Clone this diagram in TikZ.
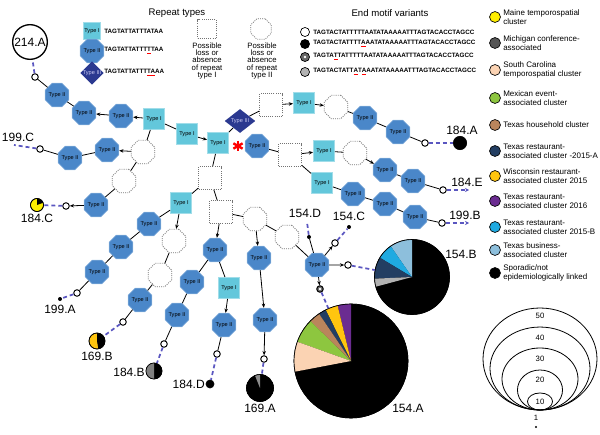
\documentclass[tikz,border=0pt]{standalone}
\usepackage{fontspec}
\setmainfont{Liberation Sans}
\usetikzlibrary{shapes.geometric,arrows.meta}

\definecolor{octblue}{HTML}{4A87C9}
\definecolor{sqcyan}{HTML}{63C7DB}
\definecolor{diablue}{HTML}{2B3990}
\definecolor{lavtext}{HTML}{C9C9F2}
\definecolor{linkblue}{HTML}{5A56C0}
\definecolor{cMaine}{HTML}{FFEE00}
\definecolor{cMich}{HTML}{555555}
\definecolor{cSC}{HTML}{FBD3B3}
\definecolor{cMex}{HTML}{8DC63F}
\definecolor{cHouse}{HTML}{BA855C}
\definecolor{cTxA}{HTML}{233E62}
\definecolor{cWisc}{HTML}{FFC50F}
\definecolor{cTxS}{HTML}{6B2C91}
\definecolor{cTxB}{HTML}{1FAAE1}
\definecolor{cBiz}{HTML}{8DBFDC}

\newcommand{\slice}[5]{\fill[#5] (#1.center) -- ++(#2:#4) arc[start angle=#2, end angle=#3, radius=#4] -- cycle;}
\newcommand{\redul}[1]{\textcolor{red}{\underline{\textcolor{black}{#1}}}}

\begin{document}
\begin{tikzpicture}[x=0.75pt, y=-0.75pt,
    typeI/.style={rectangle, fill=sqcyan, draw=sqcyan!60!white, minimum size=16pt, inner sep=0pt, font=\fontsize{4.2}{4.2}\selectfont},
    typeII/.style={regular polygon, regular polygon sides=8, fill=octblue, draw=octblue!55!white, minimum size=18pt, inner sep=0pt, font=\fontsize{4.2}{4.2}\selectfont},
    typeIII/.style={diamond, fill=diablue, text=lavtext, minimum width=23pt, minimum height=18pt, inner sep=0pt, font=\fontsize{4.2}{4.2}\selectfont},
    lossI/.style={rectangle, draw=black!55, line width=0.6pt, dash pattern=on 0.7pt off 0.9pt, fill=white, minimum size=17pt, inner sep=0pt},
    lossII/.style={regular polygon, regular polygon sides=8, draw=black!55, line width=0.6pt, dash pattern=on 0.7pt off 0.9pt, fill=white, minimum size=19pt, inner sep=0pt},
    motif/.style={circle, draw=black, fill=white, line width=0.7pt, minimum size=4.9pt, inner sep=0pt},
    ring/.style={fill=black!60, path picture={\fill[white] (path picture bounding box.center) circle[radius=1.1pt];}},
    enddot/.style={circle, fill=black, minimum size=3pt, inner sep=0pt},
    isopie/.style={circle, draw=black, fill=black, line width=0.5pt, inner sep=0pt},
    link/.style={line width=0.6pt},
    linkar/.style={link, -{Stealth[length=3.2pt, width=2.6pt]}},
    isol/.style={draw=linkblue, line width=1.3pt, dash pattern=on 3pt off 2.2pt},
    lab/.style={font=\fontsize{9}{9}\selectfont, inner sep=0pt},
    seq/.style={font=\fontsize{4.7}{4.7}\selectfont\bfseries, anchor=west, inner sep=0pt},
    keyhead/.style={font=\fontsize{7.2}{7.2}\selectfont, inner sep=0pt},
    note/.style={font=\fontsize{5.8}{5.5}\selectfont, align=center, inner sep=0pt},
    keycirc/.style={circle, draw=black, line width=0.5pt, minimum size=8.2pt, inner sep=0pt},
    keytxt/.style={font=\fontsize{6}{6.9}\selectfont, align=left, anchor=west, inner sep=0pt}]
\useasboundingbox (0,0) rectangle (600,435);

% repeat types
\node[keyhead] (hrep) at (177,13) {Repeat types};
\node[typeI, minimum size=13pt] (kI) at (92,31) {Type I};
\node[typeII, minimum size=15.5pt] (kII) at (92,51) {Type II};
\node[typeIII, minimum width=17pt, minimum height=17pt] (kIII) at (92,73) {Type III};
\node[seq] (sI) at (104,31) {TAGTATTATTTATAA};
\node[seq] (sII) at (104,51) {TAGTATTATTT\redul{T}TAA};
\node[seq] (sIII) at (104,73) {TAGTATTATTT\redul{TA}AA};
\node[lossI, minimum size=14pt] (kLI) at (207,29) {};
\node[note] (nLI) at (207,61) {Possible\\loss or\\absence\\of repeat\\type I};
\node[lossII, minimum size=16.5pt] (kLII) at (261,29) {};
\node[note] (nLII) at (262,61) {Possible\\loss or\\absence\\of repeat\\type II};

% end motif variants
\node[keyhead] (hmot) at (390,13) {End motif variants};
\node[keycirc, minimum size=6.8pt, fill=white] (k1) at (305,32) {};
\node[keycirc, minimum size=6.8pt, fill=black] (k2) at (305,44) {};
\node[keycirc, minimum size=6.8pt, ring] (k3) at (305,57) {};
\node[keycirc, minimum size=6.8pt, fill=black!30] (k4) at (305,72) {};
\node[seq] (mv1) at (313,32) {TAGTACTATTTTTAATATAAAAATTTAGTACACCTAGCC};
\node[seq] (mv2) at (313,44) {TAGTACTATTTT\redul{A}AATATAAAAATTTAGTACACCTAGCC};
\node[seq] (mv3) at (313,57) {TAGTA\redul{T}TATTTTTAATATAAAAATTTAGTACACCTAGCC};
\node[seq] (mv4) at (313,72) {TAGTACTATT\redul{A}T\redul{A}AATATAAAAATTTAGTACACCTAGCC};

% clusters
\foreach \y/\col/\lbl [count=\i] in {17/cMaine/{Maine temporospatial\\cluster},
    43/cMich/{Michigan conference-\\associated},
    70/cSC/{South Carolina\\temporospatial cluster},
    98/cMex/{Mexican event-\\associated cluster},
    125/cHouse/{Texas household cluster},
    151/cTxA/{Texas restaurant-\\associated cluster -2015-A},
    176/cWisc/{Wisconsin restaurant-\\associated cluster 2015},
    201/cTxS/{Texas restaurant-\\associated cluster 2016},
    227/cTxB/{Texas restaurant-\\associated cluster 2015-B},
    250/cBiz/{Texas business-\\associated cluster},
    273/black/{Sporadic/not\\epidemiologically linked}} {
  \node[keycirc, fill=\col] (cl\i) at (495,\y) {};
  \node[keytxt] (ct\i) at (503,\y) {\lbl};
}

% root
\node[typeI] (root) at (218,143) {Type I};
\coordinate (ast) at (238,146);
\foreach \a in {90,30,150}
  \draw[red, line width=1.8pt] ([shift={(\a:4pt)}]ast) -- ([shift={(\a+180:4pt)}]ast);

% upper left
\node[typeI] (l1) at (154,119) {Type I};
\node[typeI] (l1b) at (187,134) {Type I};
\node[typeII] (l2) at (121,116) {Type II};
\node[typeII] (l3) at (84,113) {Type II};
\node[typeII] (l4) at (57,95) {Type II};
\node[motif] (o214) at (35,77) {};
\node[circle, draw, line width=1pt, minimum size=26pt, inner sep=0pt, lab] (p214) at (30,42) {214.A};
\node[lossII] (d1) at (143,152) {};
\node[typeII] (l5) at (107,150) {Type II};
\node[typeII] (l6) at (70,158) {Type II};
\node[motif] (o199c) at (40,149) {};
\coordinate (c199c) at (14,145);
\node[lab] (t199c) at (18,137) {199.C};
\node[lossII] (d2) at (124,181) {};
\node[typeII] (l7) at (96,205) {Type II};
\node[motif] (o184c) at (66,206) {};
\node[isopie, fill=cMaine, minimum size=9.8pt] (p184c) at (37,205) {};
\node[lab] (t184c) at (37,218) {184.C};

% upper right
\node[typeIII] (t3) at (240,121) {Type III};
\node[lossI] (r1) at (271,105) {};
\node[typeI] (r2) at (304,103) {Type I};
\node[lossII] (r3) at (336,107) {};
\node[typeII] (r4) at (365,118) {Type II};
\node[typeII] (r5) at (398,132) {Type II};
\node[motif] (o184a) at (425,143) {};
\node[isopie, minimum size=10pt] (p184a) at (460,143) {};
\node[lab] (t184a) at (462,130) {184.A};

\node[typeII] (m1) at (257,146) {Type II};
\node[lossI] (m2) at (290,155) {};
\node[typeI] (m3) at (324,151) {Type I};
\node[lossII] (m4) at (355,153) {};
\node[typeII] (m5) at (385,170) {Type II};
\node[typeII] (m6) at (413,181) {Type II};
\node[motif] (o184e) at (443,190) {};
\coordinate (c184e) at (469,190);
\node[lab] (t184e) at (467,182) {184.E};
\node[typeI] (n1) at (322,183) {Type I};
\node[typeII] (n2) at (353,194) {Type II};
\node[typeII] (n3) at (385,204) {Type II};
\node[typeII] (n4) at (415,217) {Type II};
\node[motif] (o199b) at (442,223) {};
\coordinate (c199b) at (469,223);
\node[lab] (t199b) at (465,215) {199.B};

% lower part
\node[lossI] (s1) at (210,178) {};
\node[typeI] (s2) at (181,203) {Type I};
\node[lossI] (s3) at (221,212) {};
\node[typeII] (a1) at (149,224) {Type II};
\node[typeII] (a2) at (121,247) {Type II};
\node[typeII] (a3) at (97,272) {Type II};
\node[motif] (o199a) at (77,293) {};
\node[enddot] (p199a) at (60,299) {};
\node[lab] (t199a) at (60,309) {199.A};
\node[lossII] (b1) at (174,241) {};
\node[lossII] (b2) at (160,275) {};
\node[typeII] (b3) at (140,300) {Type II};
\node[motif] (o169b) at (123,322) {};
\node[isopie, fill=cWisc, minimum size=12pt] (p169b) at (97,341) {};
\node[lab] (t169b) at (97,356) {169.B};
\node[typeII] (c1) at (215,250) {Type II};
\node[typeII] (c2) at (192,282) {Type II};
\node[typeII] (c3) at (177,315) {Type II};
\node[motif] (o184b) at (164,344) {};
\node[isopie, minimum size=12pt] (p184b) at (154,371) {};
\node[lab, anchor=east] (t184b) at (145,372) {184.B};
\node[typeI] (e1) at (229,288) {Type I};
\node[typeII] (e2) at (224,325) {Type II};
\node[motif] (o184d) at (217,354) {};
\node[isopie, minimum size=6pt] (p184d) at (210,384) {};
\node[lab, anchor=east] (t184d) at (205,384) {184.D};
\node[lossII] (f1) at (255,219) {};
\node[typeII] (f2) at (259,258) {Type II};
\node[typeII] (f3) at (265,320) {Type II};
\node[motif] (o169a) at (264,359) {};
\node[isopie, minimum size=20.25pt] (p169a) at (260,388) {};
\node[lab] (t169a) at (260,408) {169.A};
\node[lossII] (g1) at (287,237) {};
\node[typeII] (g2) at (317,265) {Type II};
\node[enddot] (p154d) at (309,237) {};
\coordinate (c154d) at (307,222);
\node[lab] (t154d) at (305,213) {154.D};
\node[motif] (o154c) at (335,243) {};
\node[enddot] (p154c) at (349,227) {};
\node[lab] (t154c) at (349,216) {154.C};
\node[motif] (o154b) at (348,265) {};
\node[isopie, minimum size=56.25pt] (p154b) at (412,277) {};
\node[lab] (t154b) at (461,254) {154.B};
\node[motif, ring] (v154a) at (320,289) {};
\node[isopie, minimum size=85.5pt] (p154a) at (351,361) {};
\node[lab] (t154a) at (408,408) {154.A};

% pie slices
\slice{p184c}{20}{90}{4.9pt}{black}
\slice{p169b}{-80}{90}{6pt}{black}
\slice{p184b}{90}{270}{6pt}{black!50}
\slice{p169a}{90}{112}{10.1pt}{black!45}
\slice{p154b}{90}{124.6}{28.1pt}{cBiz}
\slice{p154b}{124.6}{149}{28.1pt}{cTxB}
\slice{p154b}{149}{182.6}{28.1pt}{cTxA}
\slice{p154b}{182.6}{195}{28.1pt}{black!30}
\slice{p154a}{90}{103.6}{42.75pt}{cTxS}
\slice{p154a}{103.6}{116.4}{42.75pt}{cWisc}
\slice{p154a}{116.4}{124.1}{42.75pt}{cTxA}
\slice{p154a}{124.1}{135.5}{42.75pt}{cHouse}
\slice{p154a}{135.5}{160.3}{42.75pt}{cMex}
\slice{p154a}{160.3}{190.8}{42.75pt}{cSC}
\draw[line width=0.5pt] (p184c.center) circle[radius=4.9pt];
\draw[line width=0.5pt] (p169b.center) circle[radius=6pt];
\draw[line width=0.5pt] (p184b.center) circle[radius=6pt];
\draw[line width=0.5pt] (p169a.center) circle[radius=10.1pt];
\draw[line width=0.5pt] (p154b.center) circle[radius=28.1pt];
\draw[line width=0.5pt] (p154a.center) circle[radius=42.75pt];

% connectors
\draw[link] (root) -- (t3);
\draw[link] (l1) -- (l1b);
\draw[linkar] (l1b) -- (root);
\draw[linkar] (l1) -- (l2);
\draw[linkar] (l2) -- (l3);
\draw[link] (l3) -- (l4);
\draw[link] (l4) -- (o214);
\draw[link] (l1) -- (d1);
\draw[linkar] (d1) -- (l5);
\draw[link] (l5) -- (l6);
\draw[link] (l6) -- (o199c);
\draw[link] (d1) -- (d2);
\draw[link] (d2) -- (l7);
\draw[linkar] (l7) -- (o184c);
\draw[link] (t3) -- (r1);
\draw[linkar] (r1) -- (r2);
\draw[linkar] (r2) -- (r3);
\draw[link] (r3) -- (r4);
\draw[link] (r4) -- (r5);
\draw[link] (r5) -- (o184a);
\draw[link] (m1) -- (m2);
\draw[linkar] (m2) -- (m3);
\draw[link] (m3) -- (m4);
\draw[linkar] (m4) -- (m5);
\draw[link] (m5) -- (m6);
\draw[link] (m6) -- (o184e);
\draw[link] (m2) -- (n1);
\draw[link] (n1) -- (n2);
\draw[link] (n2) -- (n3);
\draw[link] (n3) -- (n4);
\draw[link] (n4) -- (o199b);
\draw[link] (root) -- (s1);
\draw[link] (s1) -- (s2);
\draw[link] (s1) -- (s3);
\draw[link] (s2) -- (a1);
\draw[link] (a1) -- (a2);
\draw[link] (a2) -- (a3);
\draw[link] (a3) -- (o199a);
\draw[linkar] (s2) -- (b1);
\draw[link] (b1) -- (b2);
\draw[link] (b2) -- (b3);
\draw[link] (b3) -- (o169b);
\draw[linkar] (s3) -- (c1);
\draw[link] (c1) -- (c2);
\draw[link] (c2) -- (c3);
\draw[link] (c3) -- (o184b);
\draw[link] (c1) -- (e1);
\draw[linkar] (e1) -- (e2);
\draw[link] (e2) -- (o184d);
\draw[link] (s3) -- (f1);
\draw[linkar] (f1) -- (f2);
\draw[linkar] (f2) -- (f3);
\draw[linkar] (f3) -- (o169a);
\draw[link] (f1) -- (g1);
\draw[link] (g1) -- (g2);
\draw[link] (g2) -- (p154d);
\draw[linkar] (g2) -- (o154c);
\draw[linkar] (g2) -- (o154b);
\draw[linkar] (g2) -- (v154a);

% isolates
\draw[isol] (o214) -- (p214);
\draw[isol] (o199c) -- (c199c);
\draw[isol] (o184c) -- (p184c);
\draw[isol] (o199a) -- (p199a);
\draw[isol] (o169b) -- (p169b);
\draw[isol] (o184b) -- (p184b);
\draw[isol] (o184d) -- (p184d);
\draw[isol] (o169a) -- (p169a);
\draw[isol] (v154a) -- (p154a);
\draw[isol] (o154b) -- (p154b);
\draw[isol] (o154c) -- (p154c);
\draw[isol] (p154d) -- (c154d);
\draw[isol] (o184a) -- (p184a);
\draw[isol, -{Stealth[length=3pt, width=3pt]}] (o184e) -- (c184e);
\draw[isol, -{Stealth[length=3pt, width=3pt]}] (o199b) -- (c199b);

% size key
\draw[line width=0.6pt] (540,359) ellipse[x radius=42.75pt, y radius=38.25pt];
\draw[line width=0.6pt] (540,368.5) ellipse[x radius=37.5pt, y radius=31.1pt];
\draw[line width=0.6pt] (540,379) ellipse[x radius=28.5pt, y radius=23.25pt];
\draw[line width=0.6pt] (540,390) ellipse[x radius=16.9pt, y radius=15pt];
\draw[line width=0.6pt] (540,401.5) ellipse[x radius=9.4pt, y radius=6.4pt];
\node[font=\fontsize{5.8}{5.8}\selectfont, inner sep=0pt] (z50) at (540,316) {50};
\node[font=\fontsize{5.8}{5.8}\selectfont, inner sep=0pt] (z40) at (540,338) {40};
\node[font=\fontsize{5.8}{5.8}\selectfont, inner sep=0pt] (z30) at (540,359) {30};
\node[font=\fontsize{5.8}{5.8}\selectfont, inner sep=0pt] (z20) at (540,380) {20};
\node[font=\fontsize{5.8}{5.8}\selectfont, inner sep=0pt] (z10) at (540,402) {10};
\node[font=\fontsize{5.8}{5.8}\selectfont, inner sep=0pt] (z1) at (536,418) {1};
\fill (536,427) circle[radius=0.9pt];
\end{tikzpicture}
\end{document}
